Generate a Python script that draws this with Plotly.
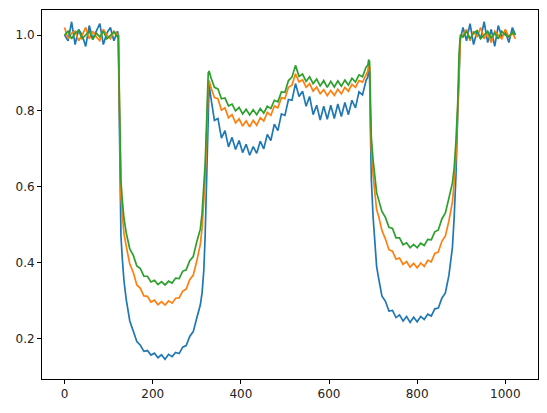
import plotly.graph_objects as go

# sample positions (index along the signal)
x_pos = (list(range(0, 121, 8)) + [122, 124, 126, 128, 131, 135] + list(range(140, 309, 8))
         + [312, 316, 319, 322, 324, 326, 328] + list(range(332, 685, 8)) + [688, 690, 692]
         + [694, 696, 700, 704, 708] + list(range(712, 881, 8)) + [884, 888, 892, 895, 898]
         + list(range(904, 1017, 8)) + [1023])

blue = ([1.00, 0.985, 1.035, 0.975, 1.015, 1.00, 0.97, 1.025, 0.99, 1.01, 1.03, 0.975, 1.005, 1.02, 0.985, 1.01]
        + [1.00, 0.80, 0.56, 0.47, 0.41, 0.35]
        + [0.302, 0.246, 0.219, 0.192, 0.182, 0.166, 0.168, 0.156, 0.161, 0.149, 0.157, 0.145, 0.158, 0.152,
           0.163, 0.160, 0.177, 0.181, 0.205, 0.218, 0.254, 0.288]
        + [0.32, 0.38, 0.47, 0.62, 0.74, 0.84, 0.87]
        + [0.835, 0.775, 0.780, 0.728, 0.748, 0.705, 0.730, 0.698, 0.722, 0.690, 0.712, 0.683, 0.706, 0.688,
           0.720, 0.700, 0.738, 0.722, 0.765, 0.748, 0.792, 0.788, 0.830, 0.828, 0.872, 0.838, 0.852, 0.812,
           0.838, 0.790, 0.815, 0.776, 0.812, 0.778, 0.815, 0.780, 0.818, 0.785, 0.822, 0.790, 0.828, 0.808,
           0.850, 0.842, 0.880]
        + [0.89, 0.91, 0.90]
        + [0.75, 0.62, 0.52, 0.44, 0.39]
        + [0.362, 0.312, 0.298, 0.272, 0.274, 0.255, 0.262, 0.246, 0.258, 0.242, 0.256, 0.244, 0.258, 0.250,
           0.264, 0.259, 0.278, 0.280, 0.306, 0.320, 0.366, 0.44]
        + [0.52, 0.63, 0.79, 0.93, 0.99]
        + [1.02, 0.985, 1.03, 0.975, 1.01, 0.99, 1.035, 0.98, 1.015, 0.97, 1.025, 0.995, 1.01, 0.98, 1.02, 1.00])

orange = ([1.02, 0.99, 1.005, 1.01, 0.985, 1.00, 1.02, 0.99, 1.01, 0.995, 0.985, 1.015, 1.00, 0.99, 1.01, 1.00]
          + [1.00, 0.85, 0.65, 0.575, 0.525, 0.475]
          + [0.443, 0.396, 0.374, 0.341, 0.332, 0.312, 0.311, 0.296, 0.301, 0.289, 0.297, 0.288, 0.299, 0.293,
             0.306, 0.307, 0.325, 0.330, 0.355, 0.367, 0.404, 0.448]
          + [0.49, 0.55, 0.62, 0.72, 0.80, 0.87, 0.88]
          + [0.862, 0.835, 0.832, 0.802, 0.808, 0.782, 0.790, 0.768, 0.779, 0.760, 0.774, 0.758, 0.775, 0.762,
             0.782, 0.773, 0.796, 0.788, 0.813, 0.808, 0.835, 0.832, 0.862, 0.868, 0.898, 0.876, 0.882, 0.862,
             0.872, 0.852, 0.863, 0.845, 0.856, 0.840, 0.854, 0.841, 0.857, 0.845, 0.862, 0.852, 0.870, 0.862,
             0.880, 0.876, 0.898]
          + [0.905, 0.92, 0.915]
          + [0.78, 0.70, 0.63, 0.58, 0.54]
          + [0.525, 0.485, 0.462, 0.434, 0.430, 0.409, 0.412, 0.395, 0.403, 0.388, 0.398, 0.386, 0.399, 0.390,
             0.406, 0.402, 0.424, 0.428, 0.456, 0.470, 0.510, 0.56]
          + [0.61, 0.68, 0.80, 0.92, 0.99]
          + [1.00, 1.015, 0.985, 1.01, 0.995, 1.02, 0.99, 1.005, 0.98, 1.01, 1.00, 0.99, 1.015, 0.995, 1.005, 0.99])

green = ([1.00, 1.01, 0.99, 1.005, 1.012, 0.99, 1.00, 1.01, 0.988, 1.005, 0.995, 1.01, 0.99, 1.00, 1.008, 0.995]
         + [1.00, 0.87, 0.69, 0.615, 0.565, 0.515]
         + [0.478, 0.436, 0.419, 0.391, 0.384, 0.364, 0.364, 0.349, 0.353, 0.342, 0.350, 0.341, 0.351, 0.346,
            0.359, 0.358, 0.377, 0.381, 0.405, 0.416, 0.455, 0.488]
         + [0.53, 0.59, 0.66, 0.76, 0.84, 0.90, 0.905]
         + [0.888, 0.862, 0.858, 0.832, 0.834, 0.813, 0.818, 0.800, 0.809, 0.792, 0.804, 0.789, 0.803, 0.790,
            0.806, 0.794, 0.812, 0.806, 0.828, 0.824, 0.850, 0.849, 0.880, 0.889, 0.920, 0.891, 0.897, 0.878,
            0.890, 0.872, 0.884, 0.866, 0.880, 0.862, 0.878, 0.863, 0.879, 0.865, 0.881, 0.868, 0.886, 0.876,
            0.895, 0.890, 0.915]
         + [0.92, 0.935, 0.93]
         + [0.80, 0.73, 0.67, 0.62, 0.585]
         + [0.568, 0.535, 0.519, 0.493, 0.490, 0.465, 0.465, 0.447, 0.452, 0.439, 0.448, 0.439, 0.451, 0.445,
            0.461, 0.460, 0.481, 0.486, 0.515, 0.531, 0.570, 0.61]
         + [0.65, 0.72, 0.82, 0.95, 1.00]
         + [0.995, 1.01, 0.99, 1.005, 1.012, 0.99, 1.00, 1.01, 0.992, 1.005, 0.99, 1.01, 1.00, 0.995, 1.008, 1.00])

series = [(blue, "#1f77b4"), (orange, "#ff7f0e"), (green, "#2ca02c")]
x_ticks = [0, 200, 400, 600, 800, 1000]
y_ticks = [0.2, 0.4, 0.6, 0.8, 1.0]

fig = go.Figure()
for vals, col in series:
    fig.add_trace(go.Scatter(x=x_pos, y=vals, mode="lines",
                             line=dict(color=col, width=1.7), showlegend=False))

axis_common = dict(showline=True, linecolor="black", linewidth=1, mirror=True,
                   showgrid=False, zeroline=False, ticks="outside", ticklen=4,
                   tickcolor="black", tickwidth=1,
                   tickfont=dict(family="DejaVu Sans", size=12, color="#222"))
fig.update_layout(
    width=547, height=413,
    margin=dict(l=42, r=9, t=10, b=34),
    paper_bgcolor="white", plot_bgcolor="white",
    xaxis=dict(range=[-51.15, 1074.15], tickvals=x_ticks, tickformat="d", **axis_common),
    yaxis=dict(range=[0.093, 1.066], tickvals=y_ticks, tickformat=".1f", **axis_common),
)
fig.write_html("out.html")
